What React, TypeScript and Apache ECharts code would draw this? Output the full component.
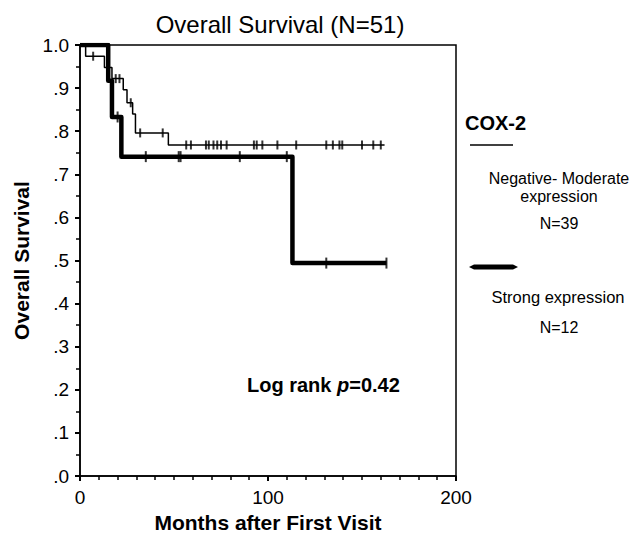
import React, { useEffect, useRef } from "react";
import * as echarts from "echarts";

// Kaplan-Meier step points [months, survival]
const negModSteps: [number, number][] = [
  [0, 1.0], [3, 0.974], [13, 0.948], [17, 0.922], [23, 0.896], [25, 0.866],
  [28, 0.84], [29.5, 0.796], [47, 0.768], [162, 0.768],
];
const negModCensored: [number, number][] = [
  [7, 0.974], [19, 0.922], [21, 0.922], [27, 0.866], [32, 0.796], [44, 0.796],
  [56.5, 0.768], [59, 0.768], [67, 0.768], [68.5, 0.768], [71, 0.768], [73, 0.768],
  [75, 0.768], [78, 0.768], [92.5, 0.768], [94, 0.768], [97, 0.768], [105, 0.768],
  [115, 0.768], [131, 0.768], [134.5, 0.768], [138, 0.768], [139.5, 0.768],
  [150, 0.768], [156, 0.768], [160, 0.768],
];
const strongSteps: [number, number][] = [
  [0, 1.0], [15, 0.917], [17, 0.833], [22, 0.741], [113, 0.494], [163, 0.494],
];
const strongCensored: [number, number][] = [
  [20, 0.833], [35, 0.741], [52.5, 0.741], [53.5, 0.741], [85, 0.741],
  [110, 0.741], [131, 0.494], [163, 0.494],
];
const yTickLabels = [".0", ".1", ".2", ".3", ".4", ".5", ".6", ".7", ".8", ".9", "1.0"];

const FONT = "'Liberation Sans', Arial, sans-serif";

export default function App() {
  const ref = useRef<HTMLDivElement>(null);
  useEffect(() => {
    if (!ref.current) return;
    const chart = echarts.init(ref.current, null, { renderer: "svg" });
    chart.setOption({
      animation: false,
      backgroundColor: "#fff",
      title: {
        text: "Overall Survival (N=51)",
        left: 275,
        textAlign: "center",
        top: 7,
        textStyle: { fontFamily: FONT, fontSize: 24, fontWeight: "normal", color: "#000" },
      },
      grid: {
        left: 80, right: 178, top: 45, bottom: 65,
        show: true, borderColor: "#000", borderWidth: 1.5, backgroundColor: "transparent",
      },
      xAxis: {
        type: "value", min: 0, max: 200, interval: 100,
        name: "Months after First Visit", nameLocation: "middle", nameGap: 33,
        nameTextStyle: { fontFamily: FONT, fontSize: 21, fontWeight: "bold", color: "#000" },
        axisLine: { show: true, lineStyle: { color: "#000", width: 1.5 } },
        axisTick: { show: true, length: 5, lineStyle: { color: "#000", width: 2 } },
        minorTick: { show: true, splitNumber: 10, length: 4, lineStyle: { color: "#000", width: 1.5 } },
        splitLine: { show: false },
        axisLabel: { fontFamily: FONT, fontSize: 19, color: "#000", margin: 12 },
      },
      yAxis: {
        type: "value", min: 0, max: 1, interval: 0.1,
        name: "Overall Survival", nameLocation: "middle", nameGap: 47,
        nameTextStyle: { fontFamily: FONT, fontSize: 21, fontWeight: "bold", color: "#000" },
        axisLine: { show: true, lineStyle: { color: "#000", width: 1.5 } },
        axisTick: { show: true, length: 5, lineStyle: { color: "#000", width: 2 } },
        minorTick: { show: true, splitNumber: 2, length: 4, lineStyle: { color: "#000", width: 1.5 } },
        splitLine: { show: false },
        axisLabel: {
          fontFamily: FONT, fontSize: 19, color: "#000", margin: 11,
          formatter: (v: number) => yTickLabels[Math.round(v * 10)] ?? "",
        },
      },
      series: [
        {
          type: "line", step: "end", data: negModSteps, showSymbol: false,
          lineStyle: { color: "#000", width: 1.5 }, z: 3,
        },
        {
          type: "scatter", data: negModCensored, symbol: "rect", symbolSize: [2, 9],
          itemStyle: { color: "#000" }, z: 4,
        },
        {
          type: "line", step: "end", data: strongSteps, showSymbol: false,
          lineStyle: { color: "#000", width: 4.5, join: "round" }, z: 2,
        },
        {
          type: "scatter", data: strongCensored, symbol: "rect", symbolSize: [2, 11],
          itemStyle: { color: "#000" }, z: 4,
        },
      ],
      graphic: [
        {
          type: "text", x: 247, y: 385,
          style: {
            text: "Log rank {i|p}=0.42",
            font: `bold 20px ${FONT}`, fill: "#000", verticalAlign: "middle",
            rich: { i: { fontFamily: FONT, fontSize: 20, fontWeight: "bold", fontStyle: "italic" } },
          },
        },
        {
          type: "text", x: 465, y: 123,
          style: { text: "COX-2", font: `bold 20px ${FONT}`, fill: "#000", verticalAlign: "middle" },
        },
        {
          type: "line", shape: { x1: 470, y1: 145, x2: 513, y2: 145 },
          style: { stroke: "#000", lineWidth: 1.5 },
        },
        {
          type: "text", x: 559, y: 178,
          style: { text: "Negative- Moderate", font: `16px ${FONT}`, fill: "#000", align: "center", verticalAlign: "middle" },
        },
        {
          type: "text", x: 559, y: 196,
          style: { text: "expression", font: `16px ${FONT}`, fill: "#000", align: "center", verticalAlign: "middle" },
        },
        {
          type: "text", x: 559, y: 223,
          style: { text: "N=39", font: `16px ${FONT}`, fill: "#000", align: "center", verticalAlign: "middle" },
        },
        {
          type: "polygon",
          shape: { points: [[469, 267], [474, 264.5], [513, 264.5], [518, 267], [513, 269.5], [474, 269.5]] },
          style: { fill: "#000" },
        },
        {
          type: "text", x: 558, y: 297,
          style: { text: "Strong expression", font: `16.5px ${FONT}`, fill: "#000", align: "center", verticalAlign: "middle" },
        },
        {
          type: "text", x: 559, y: 327,
          style: { text: "N=12", font: `16px ${FONT}`, fill: "#000", align: "center", verticalAlign: "middle" },
        },
      ],
    });
    return () => chart.dispose();
  }, []);
  return <div ref={ref} style={{ width: 634, height: 541, position: "absolute", left: 0, top: 0 }} />;
}
